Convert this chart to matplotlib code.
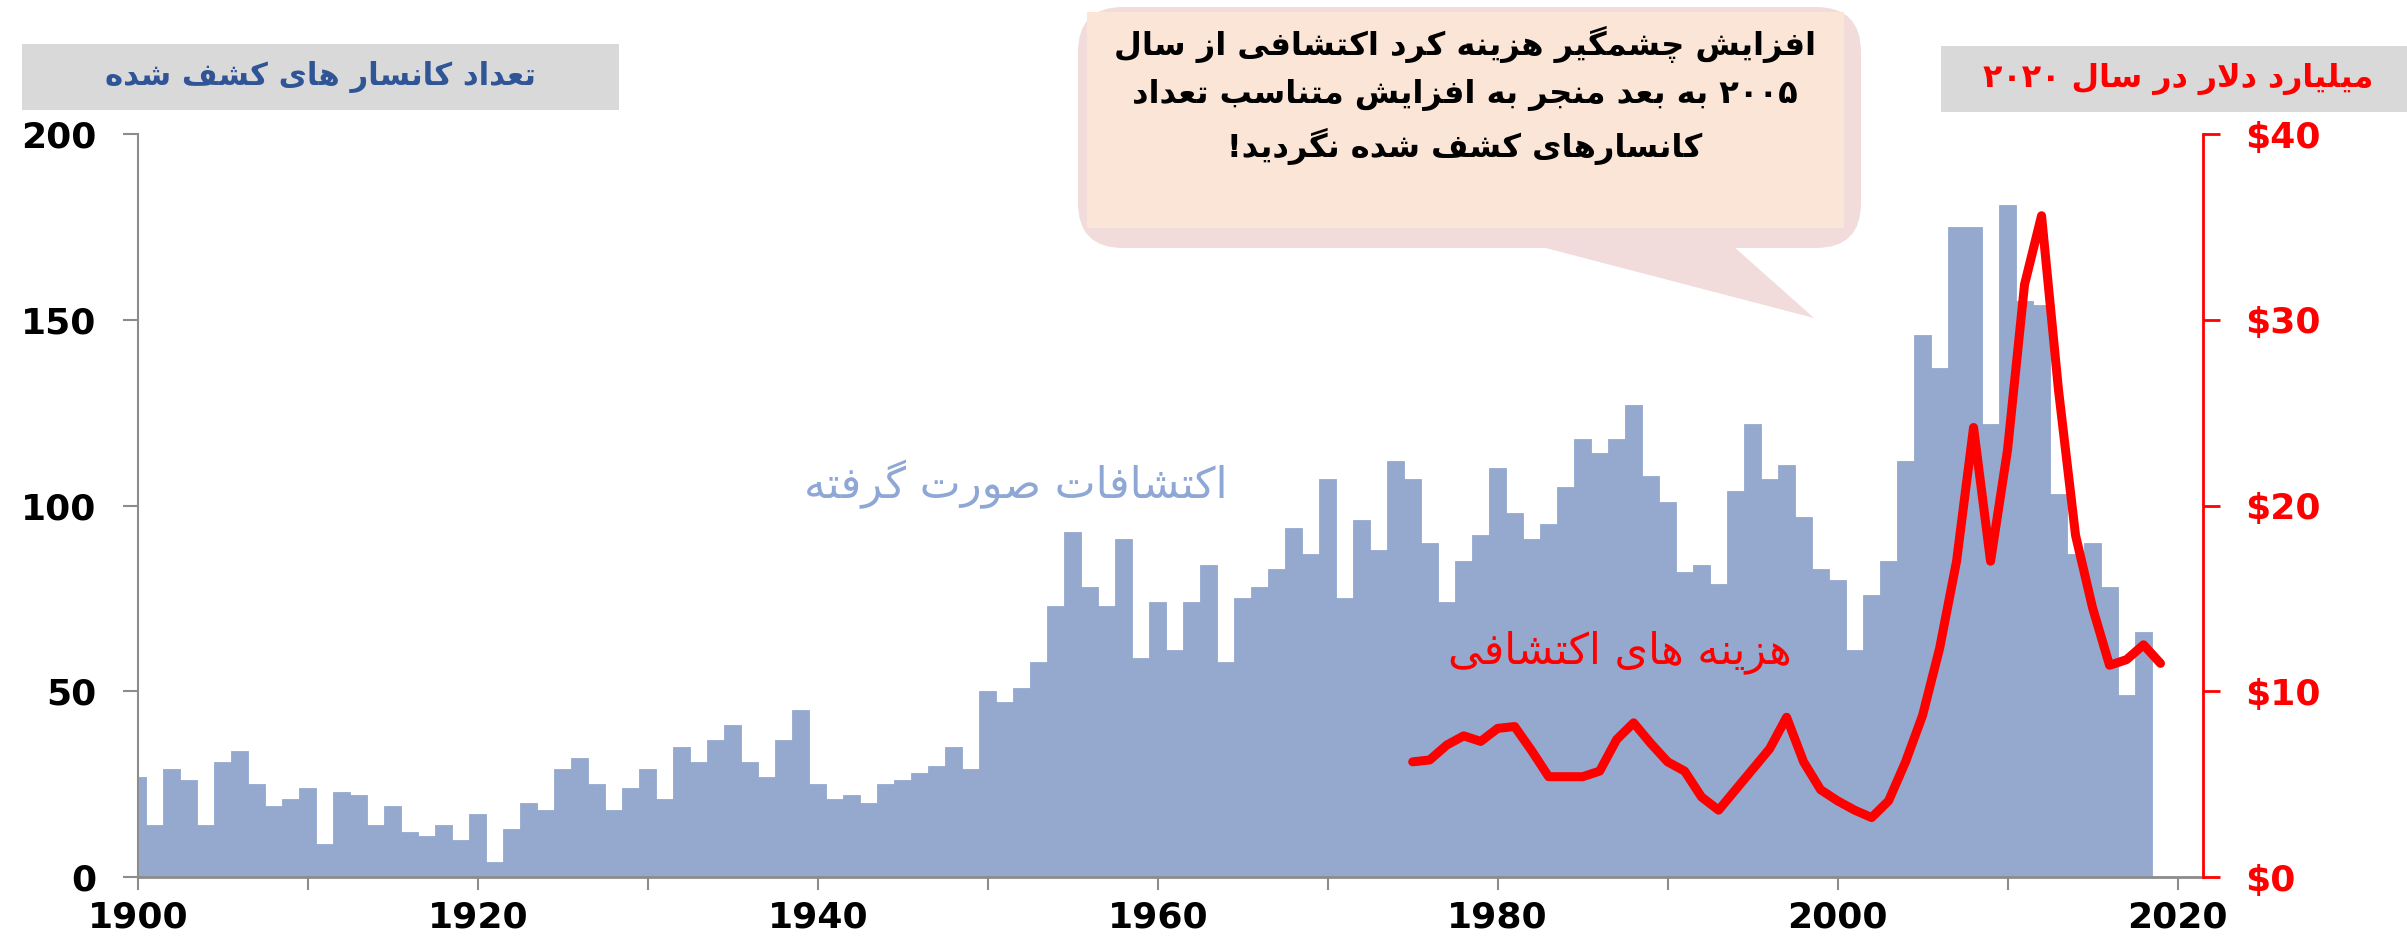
import re
import matplotlib
matplotlib.use("Agg")
import matplotlib.pyplot as plt
from matplotlib.patches import FancyBboxPatch, Polygon, Rectangle
from matplotlib.ticker import MultipleLocator
import numpy as np

plt.rcParams['font.family'] = ['DejaVu Sans']

# number of deposits discovered per year
years = np.arange(1900, 2019)
discoveries = [27, 14, 29, 26, 14, 31, 34, 25, 19, 21,
               24, 9, 23, 22, 14, 19, 12, 11, 14, 10,
               17, 4, 13, 20, 18, 29, 32, 25, 18, 24,
               29, 21, 35, 31, 37, 41, 31, 27, 37, 45,
               25, 21, 22, 20, 25, 26, 28, 30, 35, 29,
               50, 47, 51, 58, 73, 93, 78, 73, 91, 59,
               74, 61, 74, 84, 58, 75, 78, 83, 94, 87,
               107, 75, 96, 88, 112, 107, 90, 74, 85, 92,
               110, 98, 91, 95, 105, 118, 114, 118, 127, 108,
               101, 82, 84, 79, 104, 122, 107, 111, 97, 83,
               80, 61, 76, 85, 112, 146, 137, 175, 175, 122,
               181, 155, 154, 103, 87, 90, 78, 49, 66]

# exploration spending, billion USD (2020)
cost_years = np.arange(1975, 2020)
cost = [6.2, 6.3, 7.1, 7.6, 7.3, 8.0, 8.1, 6.8, 5.4, 5.4,
        5.4, 5.7, 7.4, 8.3, 7.2, 6.2, 5.7, 4.3, 3.6, 4.7,
        5.8, 6.9, 8.6, 6.2, 4.7, 4.1, 3.6, 3.2, 4.1, 6.2,
        8.7, 12.3, 17.0, 24.2, 17.0, 23.0, 31.9, 35.6, 26.2, 18.4,
        14.5, 11.4, 11.7, 12.5, 11.5]

count_ticks = [0, 50, 100, 150, 200]
cost_ticks = [0, 10, 20, 30, 40]

left_title = "تعداد کانسار های کشف شده"
right_title = "میلیارد دلار در سال ۲۰۲۰"
note_lines = ["افزایش چشمگیر هزینه کرد اکتشافی از سال",
              "۲۰۰۵ به بعد منجر به افزایش متناسب تعداد",
              "کانسارهای کشف شده نگردید!"]
bar_label = "اکتشافات صورت گرفته"
line_label = "هزینه های اکتشافی"

# matplotlib has no arabic shaping, so pick the joined glyph forms by hand
# (isolated, final, initial, medial) - two entries = letter never joins forward
FORMS = {
    '\u0622': ('\uFE81', '\uFE82'),
    '\u0627': ('\uFE8D', '\uFE8E'),
    '\u0628': ('\uFE8F', '\uFE90', '\uFE91', '\uFE92'),
    '\u067E': ('\uFB56', '\uFB57', '\uFB58', '\uFB59'),
    '\u062A': ('\uFE95', '\uFE96', '\uFE97', '\uFE98'),
    '\u062C': ('\uFE9D', '\uFE9E', '\uFE9F', '\uFEA0'),
    '\u0686': ('\uFB7A', '\uFB7B', '\uFB7C', '\uFB7D'),
    '\u062F': ('\uFEA9', '\uFEAA'),
    '\u0631': ('\uFEAD', '\uFEAE'),
    '\u0632': ('\uFEAF', '\uFEB0'),
    '\u0633': ('\uFEB1', '\uFEB2', '\uFEB3', '\uFEB4'),
    '\u0634': ('\uFEB5', '\uFEB6', '\uFEB7', '\uFEB8'),
    '\u0635': ('\uFEB9', '\uFEBA', '\uFEBB', '\uFEBC'),
    '\u0639': ('\uFEC9', '\uFECA', '\uFECB', '\uFECC'),
    '\u0641': ('\uFED1', '\uFED2', '\uFED3', '\uFED4'),
    '\u06A9': ('\uFB8E', '\uFB8F', '\uFB90', '\uFB91'),
    '\u06AF': ('\uFB92', '\uFB93', '\uFB94', '\uFB95'),
    '\u0644': ('\uFEDD', '\uFEDE', '\uFEDF', '\uFEE0'),
    '\u0645': ('\uFEE1', '\uFEE2', '\uFEE3', '\uFEE4'),
    '\u0646': ('\uFEE5', '\uFEE6', '\uFEE7', '\uFEE8'),
    '\u0647': ('\uFEE9', '\uFEEA', '\uFEEB', '\uFEEC'),
    '\u0648': ('\uFEED', '\uFEEE'),
    '\u06CC': ('\uFBFC', '\uFBFD', '\uFBFE', '\uFBFF'),
}


def joins_fwd(c):
    return c in FORMS and len(FORMS[c]) == 4


def fa(text):
    out = []
    i = 0
    n = len(text)
    while i < n:
        c = text[i]
        if c not in FORMS:
            out.append(c)
            i += 1
            continue
        from_prev = i > 0 and joins_fwd(text[i - 1])
        if c == '\u0644' and i + 1 < n and text[i + 1] == '\u0627':
            out.append('\uFEFC' if from_prev else '\uFEFB')
            i += 2
            continue
        to_next = joins_fwd(c) and i + 1 < n and text[i + 1] in FORMS
        f = FORMS[c]
        if from_prev and to_next:
            out.append(f[3])
        elif from_prev:
            out.append(f[1])
        elif to_next:
            out.append(f[2])
        else:
            out.append(f[0])
        i += 1
    runs = re.findall(r'[0-9\u06F0-\u06F9]+|[^0-9\u06F0-\u06F9]+', ''.join(out))
    return ''.join(r if r[0].isdigit() else r[::-1] for r in reversed(runs))


W, H = 2407, 942
fig = plt.figure(figsize=(W / 100, H / 100), dpi=100)
ax = fig.add_axes([138 / W, 1 - 877 / H, (2203 - 138) / W, (877 - 134) / H])

ax.bar(years, discoveries, width=1.0, color='#95A9CF', edgecolor='#95A9CF', linewidth=0.6)
ax.set_xlim(1900, 2021.5)
ax.set_ylim(0, 200)
ax.set_yticks(count_ticks)
ax.xaxis.set_major_locator(MultipleLocator(20))
ax.xaxis.set_minor_locator(MultipleLocator(10))
ax.spines['top'].set_visible(False)
ax.spines['right'].set_visible(False)
ax.spines['left'].set_color('#8c8c8c')
ax.spines['left'].set_linewidth(1.5)
ax.spines['bottom'].set_color('#8c8c8c')
ax.spines['bottom'].set_linewidth(2)
ax.tick_params(axis='y', which='both', length=11, width=1.5, color='#8c8c8c', pad=19, labelsize=26)
ax.tick_params(axis='x', which='both', length=9, width=1.5, color='#8c8c8c', pad=8, labelsize=26)
for lab in ax.get_xticklabels() + ax.get_yticklabels():
    lab.set_fontweight('bold')

ax2 = ax.twinx()
ax2.plot(cost_years, cost, color='#FF0000', lw=6.5, solid_joinstyle='round', solid_capstyle='round')
ax2.set_ylim(0, 40)
ax2.set_yticks(cost_ticks)
ax2.set_yticklabels(['\\$%d' % v for v in cost_ticks])
for s in ['top', 'left', 'bottom']:
    ax2.spines[s].set_visible(False)
ax2.spines['right'].set_color('#FF0000')
ax2.spines['right'].set_linewidth(2)
ax2.tick_params(axis='y', length=12, width=2, colors='#FF0000', pad=18, labelsize=26)
for lab in ax2.get_yticklabels():
    lab.set_fontweight('bold')

# overlay in pixel units for header boxes and the callout
ov = fig.add_axes([0, 0, 1, 1])
ov.set_xlim(0, W)
ov.set_ylim(H, 0)
ov.axis('off')

ov.add_patch(Rectangle((22, 44), 597, 66, fc='#D9D9D9', ec='none'))
ov.add_patch(Rectangle((1941, 46), 466, 66, fc='#D9D9D9', ec='none'))
ov.add_patch(FancyBboxPatch((1078, 7), 783, 241, boxstyle='round,pad=0,rounding_size=45',
                            fc='#F2DCDB', ec='none'))
ov.add_patch(Polygon([(1538, 246), (1733, 246), (1814, 318)], closed=True, fc='#F2DCDB', ec='none'))
ov.add_patch(Rectangle((1087, 12), 757, 216, fc='#FBE5D6', ec='none'))

renderer = fig.canvas.get_renderer()


def fit(t, width_px):
    w = t.get_window_extent(renderer).width
    t.set_fontsize(t.get_fontsize() * width_px / w)
    return t.get_fontsize()


t = ov.text(320, 77, fa(left_title), ha='center', va='center', color='#2F5597',
            fontweight='bold', fontsize=20)
fit(t, 430)
t = ov.text(2178, 79, fa(right_title), ha='center', va='center', color='#FF0000',
            fontweight='bold', fontsize=20)
fit(t, 390)

note_y = [44, 95, 146]
nts = [ov.text(1465, y, fa(s), ha='center', va='center', color='black',
               fontweight='bold', fontsize=24) for s, y in zip(note_lines, note_y)]
fs = fit(nts[0], 705)
for t in nts[1:]:
    t.set_fontsize(fs)

t = ov.text(1016, 484, fa(bar_label), ha='center', va='center', color='#8EA7D4', fontsize=24)
fit(t, 425)
t = ov.text(1620, 652, fa(line_label), ha='center', va='center', color='#FF0000', fontsize=24)
fit(t, 345)

fig.savefig('out.png', dpi=100)
